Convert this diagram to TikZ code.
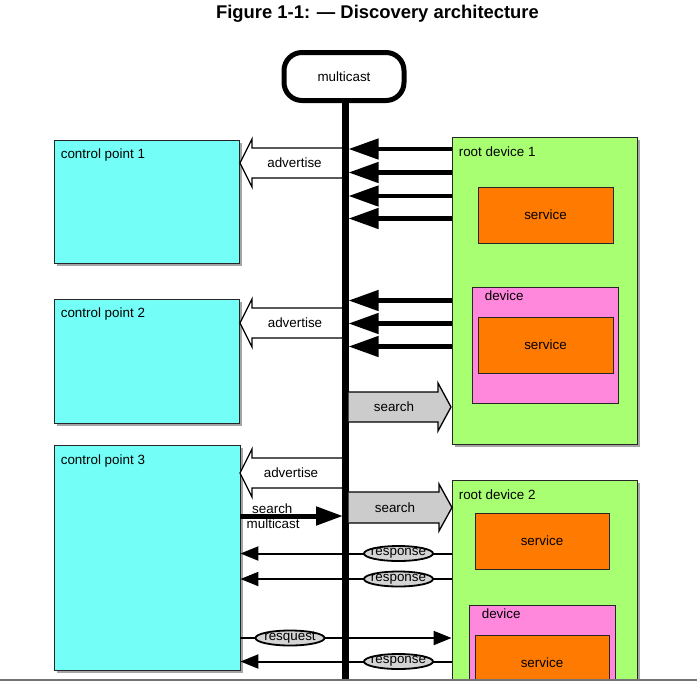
\documentclass[tikz,border=0pt]{standalone}
\usepackage{fontspec}
\setmainfont{Liberation Sans}
\usetikzlibrary{arrows.meta,shapes.geometric,shadows,calc}
\definecolor{cpcyan}{RGB}{115,255,248}
\definecolor{rdgreen}{RGB}{168,255,114}
\definecolor{svorange}{RGB}{255,122,0}
\definecolor{dvpink}{RGB}{255,136,221}
\definecolor{srchgray}{RGB}{204,204,204}
\definecolor{ellgray}{RGB}{212,212,212}
\definecolor{shadowgray}{RGB}{165,165,165}
\begin{document}
\begin{tikzpicture}[x=1pt,y=-1pt,
  every node/.style={font=\fontsize{13.4}{15}\selectfont},
  box/.style={draw=black!85, line width=0.8pt, inner sep=0pt},
  shadowed/.style={drop shadow={shadow xshift=3pt,shadow yshift=-3pt,fill=shadowgray,opacity=1}},
  cpbox/.style={box, fill=cpcyan, shadowed},
  rdbox/.style={box, fill=rdgreen, shadowed},
  svbox/.style={box, fill=svorange},
  dvbox/.style={box, fill=dvpink},
  lbl/.style={anchor=west, inner sep=0pt},
  blockarr/.style={draw=black, line width=1.3pt, fill=white, line join=miter},
  srcharr/.style={blockarr, fill=srchgray},
  thickarr/.style={line width=4.5pt, -{Triangle[length=30pt,width=20pt]}},
  bigarr/.style={line width=5pt, -{Triangle[length=27pt,width=18pt]}},
  thinarr/.style={line width=2pt, -{Triangle[length=18pt,width=14pt]}},
  ellbox/.style={ellipse, draw=black, line width=1.8pt, fill=ellgray, minimum width=69pt, minimum height=15pt, inner sep=0pt},
  busline/.style={line width=6.5pt}
]
\useasboundingbox (0,0) rectangle (697,681);
\node[font=\bfseries\fontsize{18.4}{21}\selectfont] (title) at (377.5,14) {Figure 1-1: — Discovery architecture};
\begin{scope}
\clip (0,0) rectangle (697,679);
% control points
\node[cpbox, minimum width=185pt, minimum height=123pt] (cp1) at (146.5,201.5) {};
\node[lbl] at ($(cp1.north west)+(7,15)$) {control point 1};
\node[cpbox, minimum width=185pt, minimum height=124pt] (cp2) at (146.5,361) {};
\node[lbl] at ($(cp2.north west)+(7,15)$) {control point 2};
\node[cpbox, minimum width=186pt, minimum height=225pt] (cp3) at (147,557.5) {};
\node[lbl] at ($(cp3.north west)+(7,16)$) {control point 3};
% root device 1
\node[rdbox, minimum width=185pt, minimum height=307pt] (rd1) at (544.5,290.5) {};
\node[lbl] at ($(rd1.north west)+(7,15)$) {root device 1};
\node[svbox, minimum width=135pt, minimum height=56pt] (s1) at (545.5,215) {service};
\node[dvbox, minimum width=146pt, minimum height=116pt] (d1) at (545,345) {};
\node[lbl] at ($(d1.north west)+(13,9)$) {device};
\node[svbox, minimum width=135pt, minimum height=56pt] (s2) at (545.5,345) {service};
% root device 2
\node[rdbox, minimum width=185pt, minimum height=307pt] (rd2) at (544.5,633.5) {};
\node[lbl] at ($(rd2.north west)+(7,15)$) {root device 2};
\node[svbox, minimum width=134pt, minimum height=56pt] (s3) at (542,541) {service};
\node[dvbox, minimum width=146pt, minimum height=116pt] (d2) at (542,663) {};
\node[lbl] at ($(d2.north west)+(13,9)$) {device};
\node[svbox, minimum width=134pt, minimum height=56pt] (s4) at (542,663) {service};
% multicast bus
\node[draw, line width=5pt, rounded corners=18pt, minimum width=120pt, minimum height=48pt, inner sep=0pt] (mc) at (344,76.5) {multicast};
% advertise block arrows
\draw[blockarr] (345,148) -- (252,148) -- (252,139) -- (240,163) -- (252,187) -- (252,178) -- (345,178) -- cycle;
\node (adv1) at (294.5,163) {advertise};
\draw[blockarr] (345,308) -- (252,308) -- (252,299) -- (240,323) -- (252,347) -- (252,338) -- (345,338) -- cycle;
\node (adv2) at (295,323) {advertise};
\draw[blockarr] (345,458) -- (252,458) -- (252,449) -- (240,473) -- (252,497) -- (252,488) -- (345,488) -- cycle;
\node (adv3) at (291,473) {advertise};
% bus
\coordinate (busend) at (345.5,700);
\draw[busline] (mc.south -| busend) -- (busend);
% search block arrows
\draw[srcharr] (348.5,392) -- (438,392) -- (438,383) -- (451,407) -- (438,431) -- (438,422) -- (348.5,422);
\node (srch1) at (394,407) {search};
\draw[srcharr] (348.5,492) -- (439,492) -- (439,484) -- (452,507.5) -- (439,531) -- (439,523) -- (348.5,523);
\node (srch2) at (395,507.5) {search};
% thick arrows from root device 1
\coordinate (b1) at (348.5,149);
\coordinate (b2) at (348.5,172.5);
\coordinate (b3) at (348.5,196);
\coordinate (b4) at (348.5,218.5);
\draw[thickarr] (rd1.west |- b1) -- (b1);
\draw[thickarr] (rd1.west |- b2) -- (b2);
\draw[thickarr] (rd1.west |- b3) -- (b3);
\draw[thickarr] (rd1.west |- b4) -- (b4);
\coordinate (b5) at (348.5,300.5);
\coordinate (b6) at (348.5,323.5);
\coordinate (b7) at (348.5,346.5);
\draw[thickarr] (rd1.west |- b5) -- (b5);
\draw[thickarr] (rd1.west |- b6) -- (b6);
\draw[thickarr] (rd1.west |- b7) -- (b7);
% search multicast
\coordinate (bm) at (343,516);
\draw[bigarr] (cp3.east |- bm) -- (bm);
\node[lbl] (smlbl1) at (252,509) {search};
\node[lbl] (smlbl2) at (246.5,524) {multicast};
% responses / request
\coordinate (r1) at (0,553.5);
\coordinate (r2) at (0,579);
\coordinate (r3) at (0,638);
\coordinate (r4) at (0,661.5);
\draw[thinarr] (rd2.west |- r1) -- (cp3.east |- r1);
\draw[thinarr] (rd2.west |- r2) -- (cp3.east |- r2);
\draw[thinarr] (cp3.east |- r3) -- (rd2.west |- r3);
\draw[thinarr] (rd2.west |- r4) -- (cp3.east |- r4);
\node[ellbox] (e1) at (398.5,553.5) {};
\node at (e1) {response};
\node[ellbox] (e2) at (398.5,579) {};
\node at (e2) {response};
\node[ellbox] (e3) at (290,638) {};
\node at (e3) {resquest};
\node[ellbox] (e4) at (398.5,661.5) {};
\node at (e4) {response};
\end{scope}
\draw[black!55, line width=2pt] (0,680) -- (697,680);
\end{tikzpicture}
\end{document}
